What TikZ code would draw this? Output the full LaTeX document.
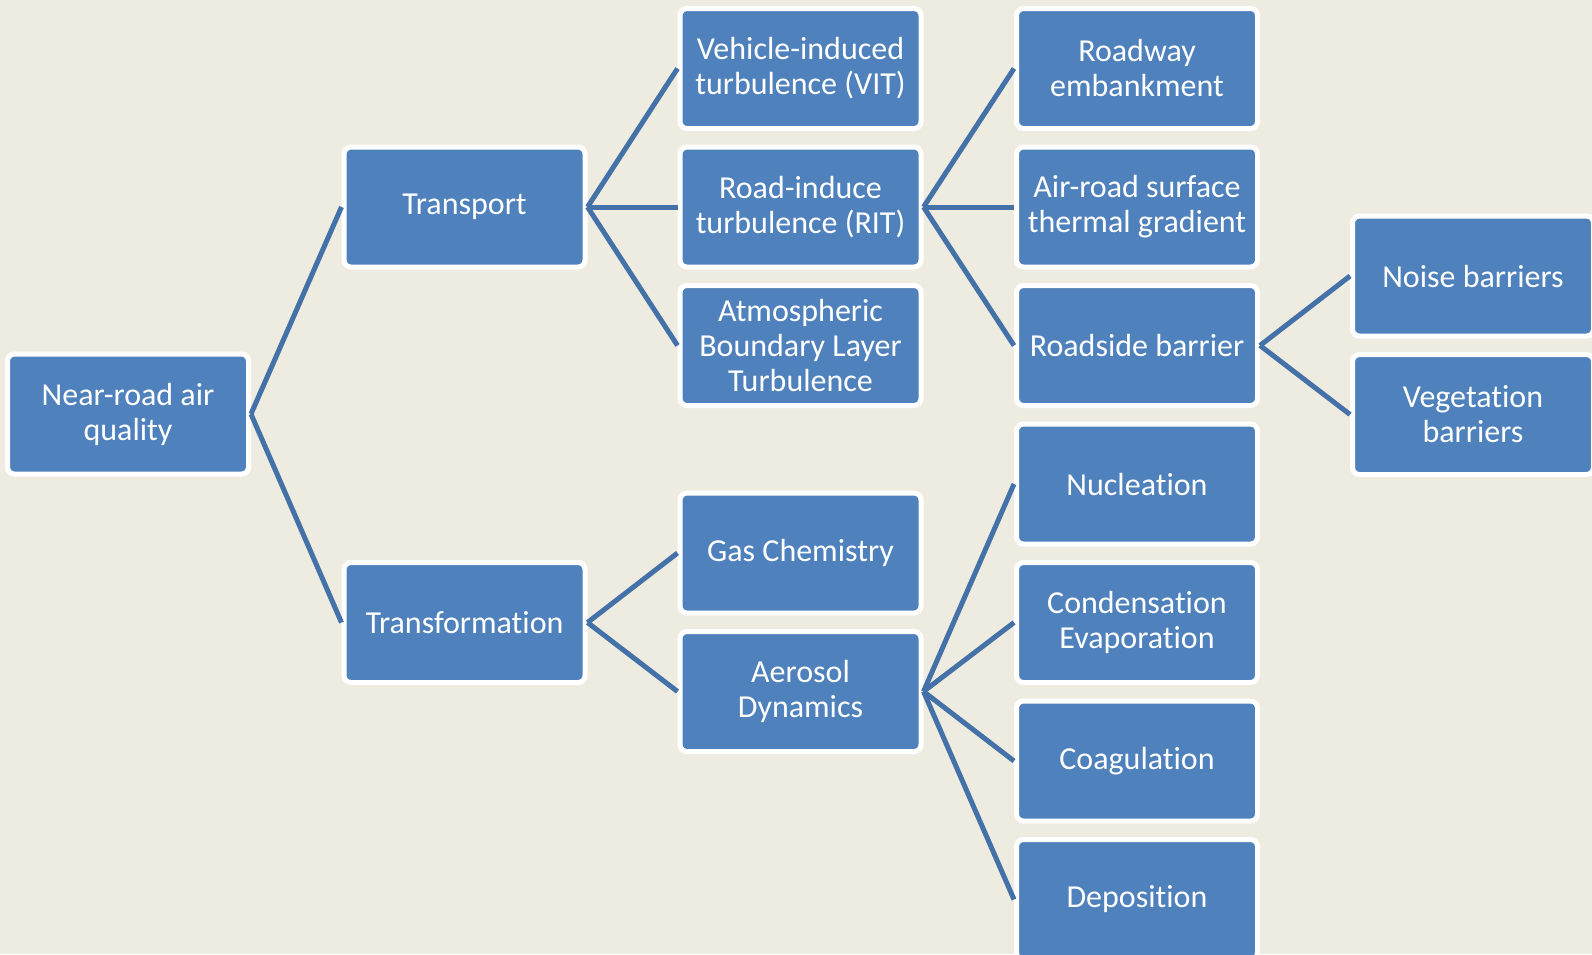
\documentclass[tikz,border=0pt]{standalone}
\usepackage{fontspec}
\setmainfont[RawFeature={-liga,-calt,-clig,-dlig}]{Carlito}
\usetikzlibrary{positioning}

\definecolor{bgtan}{HTML}{EEECE1}
\definecolor{boxblue}{HTML}{4F81BD}
\definecolor{linkblue}{HTML}{4472A8}

\begin{document}
\begin{tikzpicture}[
    x=1pt, y=-1pt,
    box/.style={rectangle, rounded corners=7pt, fill=boxblue, draw=white, line width=5pt,
                minimum width=241pt, minimum height=120pt, inner sep=0pt,
                text=white, align=center, font=\fontsize{32}{35}\selectfont},
    link/.style={draw=linkblue, line width=5pt}
]
    % page and background
    \useasboundingbox (0,0) rectangle (1592,954);
    \fill[bgtan] (0,0) rectangle (1592,954);

    % root
    \node[box] (near) at (128,414) {Near-road air\\quality};

    % second level
    \node[box] (transport) at (464.5,207) {Transport};
    \node[box] (transform) at (464.5,622.5) {Transformation};

    % third level: transport branch
    \node[box] (vit) at (800.5,68.5) {Vehicle-induced\\turbulence (VIT)};
    \node[box] (rit) at (800.5,207) {Road-induce\\turbulence (RIT)};
    \node[box] (abl) at (800.5,345.5) {Atmospheric\\Boundary Layer\\Turbulence};

    % third level: transformation branch
    \node[box] (gas) at (800.5,553) {Gas Chemistry};
    \node[box] (aerosol) at (800.5,691.5) {Aerosol\\Dynamics};

    % fourth level: RIT branch
    \node[box] (embank) at (1137,68.5) {Roadway\\embankment};
    \node[box] (thermal) at (1137,207) {Air-road surface\\thermal gradient};
    \node[box] (barrier) at (1137,345.5) {Roadside barrier};

    % fourth level: aerosol branch
    \node[box] (nucl) at (1137,484) {Nucleation};
    \node[box] (cond) at (1137,622.5) {Condensation\\Evaporation};
    \node[box] (coag) at (1137,761) {Coagulation};
    \node[box] (depo) at (1137,899.5) {Deposition};

    % fifth level: barrier types
    \node[box] (noise) at (1473,276) {Noise barriers};
    \node[box] (veget) at (1473,414.5) {Vegetation\\barriers};

    % connectors, parent east to child west
    \foreach \a/\b in {near/transport, near/transform,
                       transport/vit, transport/rit, transport/abl,
                       transform/gas, transform/aerosol,
                       rit/embank, rit/thermal, rit/barrier,
                       barrier/noise, barrier/veget,
                       aerosol/nucl, aerosol/cond, aerosol/coag, aerosol/depo}
        \draw[link] (\a.east) -- (\b.west);

\end{tikzpicture}
\end{document}
